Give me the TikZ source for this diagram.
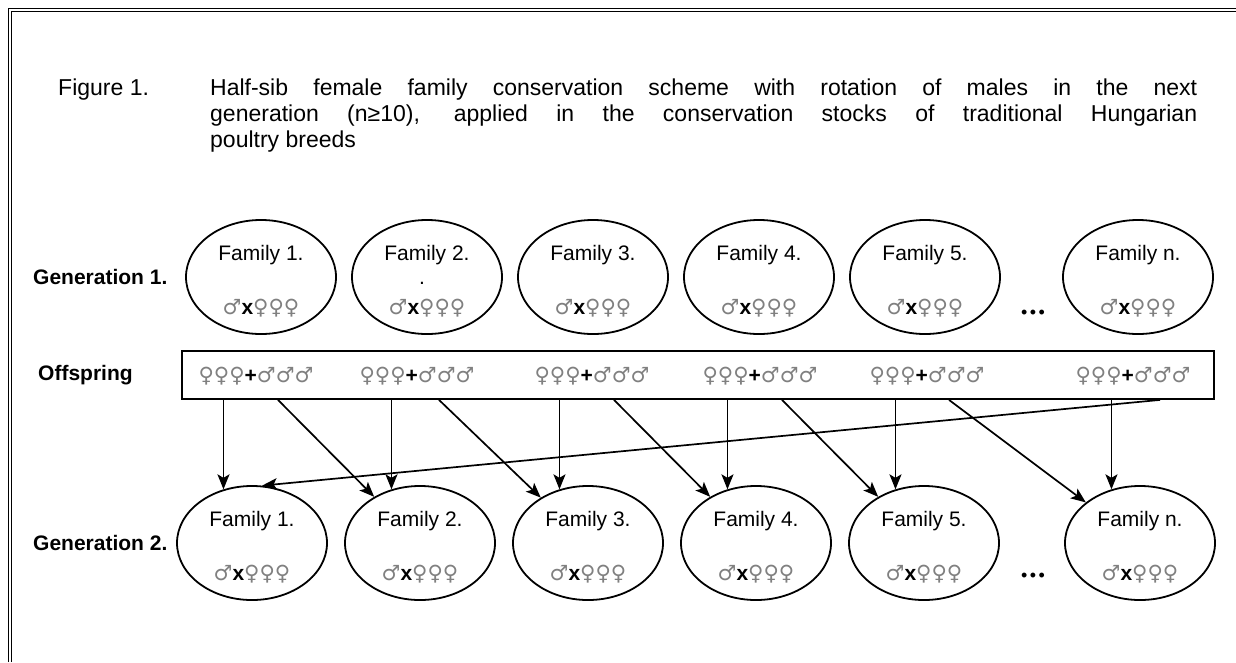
\documentclass[tikz,border=0pt]{standalone}
\usepackage{fontspec}
\setmainfont{Liberation Sans}
\newfontfamily\symfont{DejaVu Sans}
\usetikzlibrary{arrows.meta, shapes.geometric, positioning, calc}

\newcommand{\famfont}{\fontsize{21}{25}\selectfont}
\newcommand{\genfont}{\fontsize{21}{25}\selectfont\bfseries}
\newcommand{\ttlfont}{\fontsize{23}{26}\selectfont}
\newcommand{\male}{{\symfont\fontsize{21}{24}\selectfont\color{black!50}♂}}
\newcommand{\female}{{\symfont\fontsize{21}{24}\selectfont\color{black!50}♀}}
\newcommand{\mating}{\male\textbf{x}\female\female\female}
\newcommand{\brood}{\female\female\female\textbf{+}\male\male\male}

\begin{document}
\begin{tikzpicture}[x=1pt, y=-1pt,
    family/.style={ellipse, draw, line width=1.8pt, minimum width=150pt, minimum height=114pt, inner sep=0pt, align=center, font=\famfont},
    genlabel/.style={anchor=west, inner sep=0pt, font=\genfont},
    offtext/.style={inner sep=0pt, font=\famfont},
    dots/.style={inner sep=0pt, font=\fontsize{18}{18}\selectfont},
    arrow/.style={-{Stealth[length=15pt, width=12pt, inset=3.5pt]}, line width=1.7pt}
]
\useasboundingbox (0,0) rectangle (1236,662);

% page frame
\draw[double, double distance=2pt, line width=0.7pt] (10,662) -- (10,10) -- (1236,10);

% caption
\node[anchor=north west, inner sep=0pt, text width=1139pt, align=justify, font=\ttlfont] (caption) at (58,79)
  {\hangindent=152pt \hangafter=1
   \makebox[152pt][l]{Figure 1.}Half-sib female family conservation scheme with rotation of males in the next\linebreak
   generation (n≥10), applied in the conservation stocks of traditional Hungarian\linebreak
   poultry breeds\par};

% generation labels
\node[genlabel] (gen1) at (33,277) {Generation 1.};
\node[genlabel] (offlab) at (38,375) {Offspring};
\node[genlabel] (gen2) at (33,543) {Generation 2.};

% generation 1
\foreach \x/\lab [count=\i] in {261/1, 427/2, 593/3, 759/4, 925/5, 1138/n}
  \node[family] (g1f\i) at (\x,277) {\rule{0pt}{24pt}Family \lab.\\[29pt]\mating};
\node[offtext] (g1dot) at (422,283) {.};
\node[dots] (g1more) at (1033,314) {•\hspace{2.5pt}•\hspace{2.5pt}•};

% offspring
\node[draw, line width=1.8pt, minimum width=1032pt, minimum height=48pt, inner sep=0pt] (ofs) at (698,375) {};
\foreach \x [count=\i] in {256, 417, 592, 760, 927, 1133}
  \node[offtext] (o\i) at (\x,376) {\brood};

% generation 2
\foreach \x/\lab [count=\i] in {252/1, 420/2, 588/3, 756/4, 924/5, 1140/n}
  \node[family] (g2f\i) at (\x,543) {\rule{0pt}{24pt}Family \lab.\\[29pt]\mating};
\node[dots] (g2more) at (1033,577) {•\hspace{2.5pt}•\hspace{2.5pt}•};

% daughters stay, sons rotate
\foreach \i in {1,...,6}
  \draw[arrow] (g2f\i.118 |- ofs.south) -- (g2f\i.118);
\foreach \i/\j in {1/2, 2/3, 3/4, 4/5, 5/6}
  \draw[arrow] ($(o\i.center |- ofs.south)+(22,0)$) -- (g2f\j);
\draw[arrow] ($(o6.center |- ofs.south)+(27,0)$) -- (g2f1.80);

\end{tikzpicture}
\end{document}
